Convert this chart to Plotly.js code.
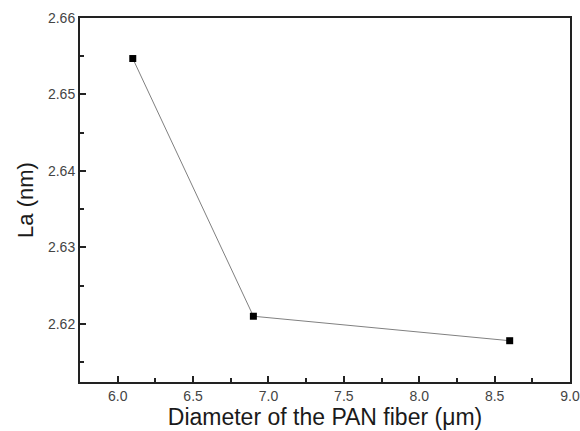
<!DOCTYPE html>
<html>
<head>
<meta charset="utf-8">
<script src="https://cdn.plot.ly/plotly-3.0.1.min.js"></script>
<style>html,body{margin:0;padding:0;background:#fff;}#chart{width:580px;height:431px;}</style>
</head>
<body>
<div id="chart"></div>
<script>
const diameters = [6.1, 6.9, 8.6];
const laValues = [2.6547, 2.6210, 2.6178];
const xTickVals = [6.0, 6.5, 7.0, 7.5, 8.0, 8.5, 9.0];
const xTickText = ['6.0', '6.5', '7.0', '7.5', '8.0', '8.5', '9.0'];
const xMinorVals = [6.25, 6.75, 7.25, 7.75, 8.25, 8.75];
const yTickVals = [2.62, 2.63, 2.64, 2.65, 2.66];
const yTickText = ['2.62', '2.63', '2.64', '2.65', '2.66'];
const yMinorVals = [2.615, 2.625, 2.635, 2.645, 2.655];

const trace = {
  x: diameters, y: laValues, type: 'scatter', mode: 'lines+markers',
  line: {color: '#808080', width: 1},
  marker: {symbol: 'square', size: 7, color: '#000'},
  cliponaxis: false
};
const fam = 'Liberation Sans, Arial, sans-serif';
const layout = {
  width: 580, height: 431,
  margin: {l: 80, r: 10, t: 18, b: 49},
  paper_bgcolor: '#fff', plot_bgcolor: '#fff',
  showlegend: false,
  font: {family: fam, color: '#333'},
  xaxis: {
    range: [5.75, 9.0], tickmode: 'array', tickvals: xTickVals, ticktext: xTickText,
    ticks: 'inside', ticklen: 6, tickwidth: 2, tickcolor: '#222',
    minor: {tickvals: xMinorVals, ticks: 'inside', ticklen: 4, tickwidth: 2, tickcolor: '#222', showgrid: false},
    showline: true, linecolor: '#222', linewidth: 2, mirror: true,
    showgrid: false, zeroline: false,
    tickfont: {family: fam, size: 14, color: '#444'},
    title: {text: 'Diameter of the PAN fiber (μm)', font: {family: fam, size: 23, color: '#1a1a1a'}, standoff: 4}
  },
  yaxis: {
    range: [2.6124, 2.66], tickmode: 'array', tickvals: yTickVals, ticktext: yTickText,
    ticks: 'inside', ticklen: 6, tickwidth: 2, tickcolor: '#222',
    minor: {tickvals: yMinorVals, ticks: 'inside', ticklen: 4, tickwidth: 2, tickcolor: '#222', showgrid: false},
    showline: true, linecolor: '#222', linewidth: 2, mirror: true,
    showgrid: false, zeroline: false,
    tickfont: {family: fam, size: 14, color: '#444'},
    title: {text: 'La (nm)', font: {family: fam, size: 22, color: '#1a1a1a'}, standoff: 8}
  }
};
Plotly.newPlot('chart', [trace], layout, {staticPlot: true, displayModeBar: false});
</script>
</body>
</html>
